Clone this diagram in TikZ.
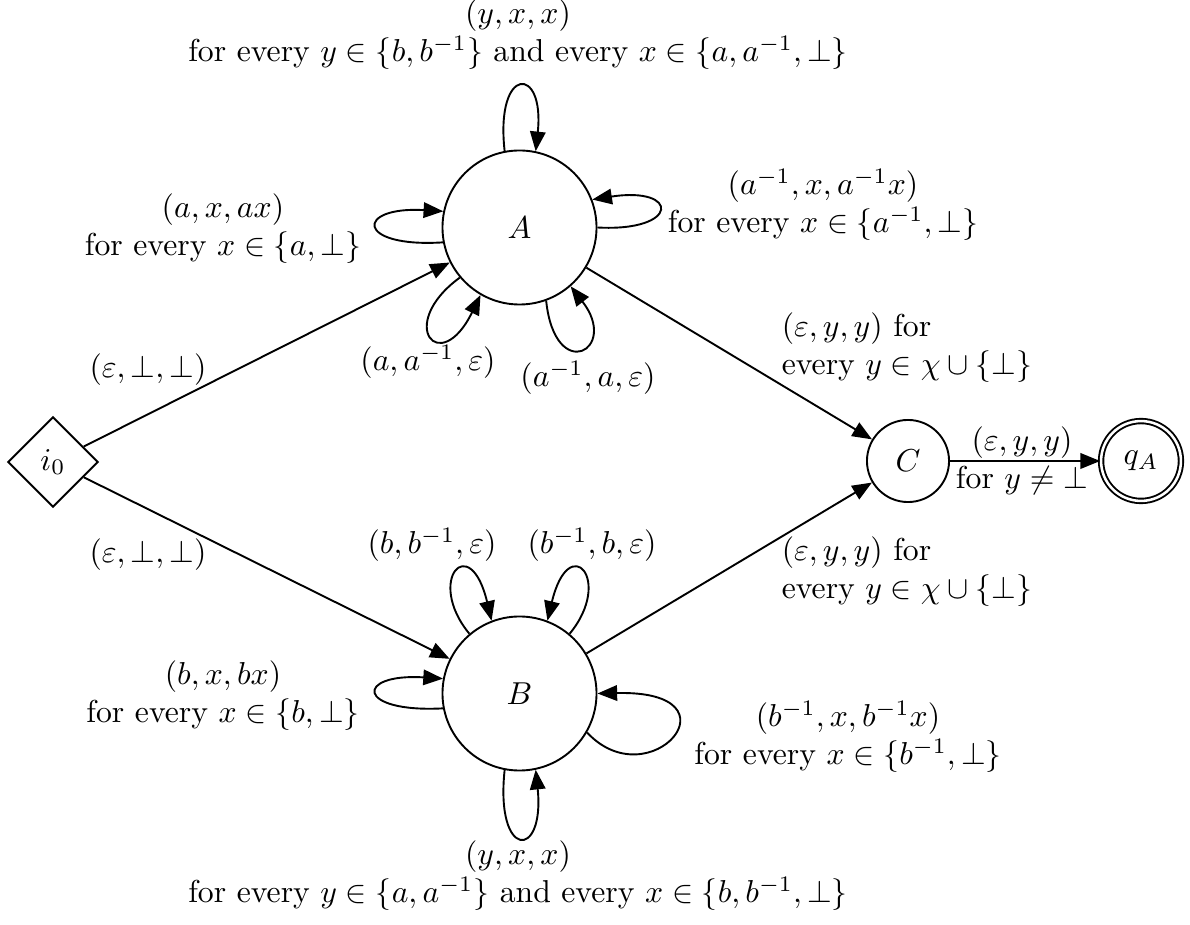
\documentclass[tikz,border=0pt]{standalone}
\usetikzlibrary{shapes.geometric,arrows.meta}
\begin{document}
\begin{tikzpicture}[x=0.3155pt,y=-0.3155pt,
  state/.style={circle,draw,semithick,inner sep=0pt},
  edge/.style={semithick,-{Triangle[length=6.2pt,width=4.9pt]}},
  lbl/.style={align=center,inner sep=0pt}]
\useasboundingbox (0,0) rectangle (1190,925);
% states
\node[diamond,draw,semithick,inner sep=0pt,minimum size=28.5pt] (i0) at (53,462) {$i_0$};
\node[state,minimum size=48.6pt] (A) at (519.5,227.5) {$A$};
\node[state,minimum size=48.6pt] (B) at (519.5,693.5) {$B$};
\node[state,minimum size=25.9pt] (C) at (908,461) {$C$};
\node[state,double,double distance=0.8pt,minimum size=25.2pt] (q) at (1141,461) {$q_A$};
% straight edges
\draw[edge] (i0) -- (A);
\draw[edge] (i0) -- (B);
\draw[edge] (A) -- (C);
\draw[edge] (B) -- (C);
\draw[edge] (C) -- (q);
% loops on A
\draw[edge] (A.101) .. controls (495,65) and (545,65) .. (A.78);
\draw[edge] (A.191) .. controls (355,248) and (355,206) .. (A.168);
\draw[edge] (A.0) .. controls (680,232) and (680,186) .. (A.21);
\draw[edge] (A.220) .. controls (395,325) and (440,378) .. (A.240);
\draw[edge] (A.290) .. controls (555,385) and (620,350) .. (A.311);
% loops on B
\draw[edge] (B.130) .. controls (425,580) and (470,530) .. (B.111);
\draw[edge] (B.50) .. controls (614,580) and (569,530) .. (B.69);
\draw[edge] (B.191) .. controls (355,713) and (355,673) .. (B.169);
\draw[edge] (B.330) .. controls (650,800) and (745,690) .. (B.0);
\draw[edge] (B.259.5) .. controls (495,860) and (545,860) .. (B.282.5);
% labels
\node[lbl] (la1) at (148,370) {$(\varepsilon,\perp,\perp)$};
\node[lbl] (la2) at (148,555) {$(\varepsilon,\perp,\perp)$};
\node[lbl,align=left] (lac) at (907,348) {$(\varepsilon,y,y)$ for\\ every $y\in\chi\cup\{\perp\}$};
\node[lbl,align=left] (lbc) at (907,572) {$(\varepsilon,y,y)$ for\\ every $y\in\chi\cup\{\perp\}$};
\node[lbl] (lcq) at (1022,461) {$(\varepsilon,y,y)$\\for $y\neq{\perp}$};
\node[lbl] (lAt) at (518,35) {$(y,x,x)$\\for every $y\in\{b,b^{-1}\}$ and every $x\in\{a,a^{-1},\perp\}$};
\node[lbl] (lAl) at (223,229) {$(a,x,ax)$\\for every $x\in\{a,\perp\}$};
\node[lbl] (lAr) at (823,205) {$(a^{-1},x,a^{-1}x)$\\for every $x\in\{a^{-1},\perp\}$};
\node[lbl] (lAll) at (428,362) {$(a,a^{-1},\varepsilon)$};
\node[lbl] (lAlr) at (588,378) {$(a^{-1},a,\varepsilon)$};
\node[lbl] (lBtl) at (432,545) {$(b,b^{-1},\varepsilon)$};
\node[lbl] (lBtr) at (592,545) {$(b^{-1},b,\varepsilon)$};
\node[lbl] (lBl) at (223,696) {$(b,x,bx)$\\for every $x\in\{b,\perp\}$};
\node[lbl] (lBr) at (848,737) {$(b^{-1},x,b^{-1}x)$\\for every $x\in\{b^{-1},\perp\}$};
\node[lbl] (lBb) at (518,876) {$(y,x,x)$\\for every $y\in\{a,a^{-1}\}$ and every $x\in\{b,b^{-1},\perp\}$};
\end{tikzpicture}
\end{document}
